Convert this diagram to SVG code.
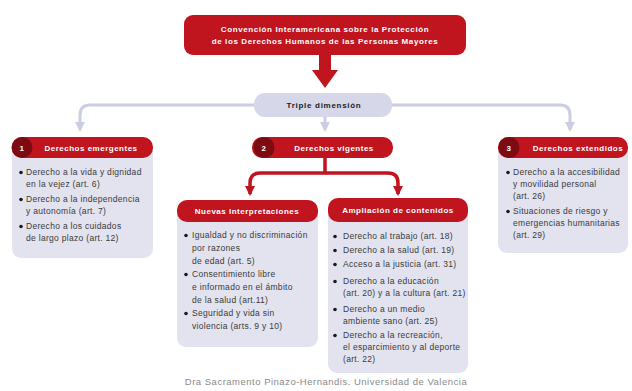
<svg xmlns="http://www.w3.org/2000/svg" width="632" height="391" viewBox="0 0 632 391">
<defs>
<style>
.red{fill:#c0141f}
.dark{fill:#7d0b12}
.body{fill:#e2e3ef}
.hdr{font-family:"Liberation Sans",Arial,sans-serif;font-size:8px;font-weight:bold;fill:#fff;letter-spacing:0.5px}
.ttl{letter-spacing:0.6px}
.t{font-family:"Liberation Sans",Arial,sans-serif;font-size:8.5px;fill:#3a3a3a;letter-spacing:0.3px}
.dot{fill:#1a1a1a}
.lav{fill:none;stroke:#cbcde3;stroke-width:3}
.redl{fill:none;stroke:#c0141f;stroke-width:3.5}
</style>
<marker id="ar" viewBox="0 0 10 10" refX="8" refY="5" markerWidth="3" markerHeight="3" markerUnits="strokeWidth" orient="auto"><path d="M0,0 L10,5 L0,10 Z" fill="#c0141f"/></marker>
<marker id="al2" viewBox="0 0 10 10" refX="8" refY="5" markerWidth="3.3" markerHeight="3.3" markerUnits="strokeWidth" orient="auto"><path d="M0,0 L10,5 L0,10 Z" fill="#cbcde3"/></marker>
</defs>
<rect width="632" height="391" fill="#fff"/>

<g id="connectors">
<path class="lav" d="M256,105 H90 Q80,105 80,115 V130" marker-end="url(#al2)"/>
<path class="lav" d="M392,105 H560 Q570,105 570,115 V130" marker-end="url(#al2)"/>
<path class="lav" d="M325,116 V130" marker-end="url(#al2)"/>
<path d="M319,55 H331 V70 H338 L325,88 L312,70 H319 Z" class="red"/>
<path class="redl" d="M325,158 V173 H260 Q250,173 250,183 V194" marker-end="url(#ar)"/>
<path class="redl" d="M325,173 H388 Q398,173 398,183 V194" marker-end="url(#ar)"/>
</g>

<g id="title">
<rect x="184" y="15" width="282" height="40" rx="9" class="red"/>
<text class="hdr ttl" x="325" y="32" text-anchor="middle">Convención Interamericana sobre la Protección</text>
<text class="hdr ttl" x="325" y="44" text-anchor="middle">de los Derechos Humanos de las Personas Mayores</text>
</g>

<g id="triple">
<rect x="254" y="93" width="138" height="24" rx="11" fill="#d6d8ea"/>
<text x="324" y="108" text-anchor="middle" font-family="Liberation Sans, Arial, sans-serif" font-size="8" font-weight="bold" fill="#222" letter-spacing="0.7">Triple dimensión</text>
</g>

<g id="emergentes">
<rect x="12" y="140" width="141" height="118" rx="9" class="body"/>
<rect x="12" y="137" width="141" height="21" rx="10" class="red"/>
<circle cx="22" cy="147.5" r="10.5" class="dark"/>
<text class="hdr" x="22" y="150.5" text-anchor="middle">1</text>
<text class="hdr" x="91" y="150.5" text-anchor="middle">Derechos emergentes</text>
<circle class="dot" cx="21" cy="172.5" r="1.8"/>
<text class="t" x="26" y="175">Derecho a la vida y dignidad</text>
<text class="t" x="26" y="187">en la vejez (art. 6)</text>
<circle class="dot" cx="21" cy="199.5" r="1.8"/>
<text class="t" x="26" y="202">Derecho a la independencia</text>
<text class="t" x="26" y="214">y autonomía (art. 7)</text>
<circle class="dot" cx="21" cy="226.5" r="1.8"/>
<text class="t" x="26" y="229">Derecho a los cuidados</text>
<text class="t" x="26" y="241">de largo plazo (art. 12)</text>
</g>

<g id="vigentes">
<rect x="252" y="137" width="141" height="21" rx="10" class="red"/>
<circle cx="264" cy="147.5" r="10.5" class="dark"/>
<text class="hdr" x="264" y="150.5" text-anchor="middle">2</text>
<text class="hdr" x="334" y="150.5" text-anchor="middle">Derechos vigentes</text>
</g>

<g id="extendidos">
<rect x="498" y="140" width="130" height="113" rx="9" class="body"/>
<rect x="498" y="137" width="130" height="21" rx="10" class="red"/>
<circle cx="509" cy="147.5" r="10.5" class="dark"/>
<text class="hdr" x="509" y="150.5" text-anchor="middle">3</text>
<text class="hdr" x="578" y="150.5" text-anchor="middle">Derechos extendidos</text>
<circle class="dot" cx="508" cy="172.5" r="1.8"/>
<text class="t" x="513" y="175">Derecho a la accesibilidad</text>
<text class="t" x="513" y="187">y movilidad personal</text>
<text class="t" x="513" y="199">(art. 26)</text>
<circle class="dot" cx="508" cy="211.5" r="1.8"/>
<text class="t" x="513" y="214">Situaciones de riesgo y</text>
<text class="t" x="513" y="226">emergencias humanitarias</text>
<text class="t" x="513" y="238">(art. 29)</text>
</g>

<g id="nuevas">
<rect x="177" y="203" width="141" height="144" rx="9" class="body"/>
<rect x="177" y="200" width="141" height="22" rx="10" class="red"/>
<text class="hdr" x="247" y="214" text-anchor="middle">Nuevas Interpretaciones</text>
<circle class="dot" cx="186" cy="235.5" r="1.8"/>
<text class="t" x="192" y="238">Igualdad y no discriminación</text>
<text class="t" x="192" y="251">por razones</text>
<text class="t" x="192" y="264">de edad (art. 5)</text>
<circle class="dot" cx="186" cy="274.5" r="1.8"/>
<text class="t" x="192" y="277">Consentimiento libre</text>
<text class="t" x="192" y="290">e informado en el ámbito</text>
<text class="t" x="192" y="303">de la salud (art.11)</text>
<circle class="dot" cx="186" cy="313.5" r="1.8"/>
<text class="t" x="192" y="316">Seguridad y vida sin</text>
<text class="t" x="192" y="329">violencia (arts. 9 y 10)</text>
</g>

<g id="ampliacion">
<rect x="328" y="201" width="140" height="172" rx="9" class="body"/>
<rect x="328" y="198" width="140" height="24" rx="10" class="red"/>
<text class="hdr" x="398" y="213" text-anchor="middle">Ampliación de contenidos</text>
<circle class="dot" cx="335" cy="236.5" r="1.8"/>
<text class="t" x="343" y="239">Derecho al trabajo (art. 18)</text>
<circle class="dot" cx="335" cy="250.5" r="1.8"/>
<text class="t" x="343" y="253">Derecho a la salud (art. 19)</text>
<circle class="dot" cx="335" cy="264.5" r="1.8"/>
<text class="t" x="343" y="267">Acceso a la justicia (art. 31)</text>
<circle class="dot" cx="335" cy="281.5" r="1.8"/>
<text class="t" x="343" y="284">Derecho a la educación</text>
<text class="t" x="343" y="296">(art. 20) y a la cultura (art. 21)</text>
<circle class="dot" cx="335" cy="309.5" r="1.8"/>
<text class="t" x="343" y="312">Derecho a un medio</text>
<text class="t" x="343" y="324">ambiente sano (art. 25)</text>
<circle class="dot" cx="335" cy="335.5" r="1.8"/>
<text class="t" x="343" y="338">Derecho a la recreación,</text>
<text class="t" x="343" y="350">el esparcimiento y al deporte</text>
<text class="t" x="343" y="362">(art. 22)</text>
</g>

<text x="326" y="385" text-anchor="middle" font-family="Liberation Sans, Arial, sans-serif" font-size="9.5" fill="#8a8a8a" letter-spacing="0.5">Dra Sacramento Pinazo-Hernandis. Universidad de Valencia</text>
</svg>
